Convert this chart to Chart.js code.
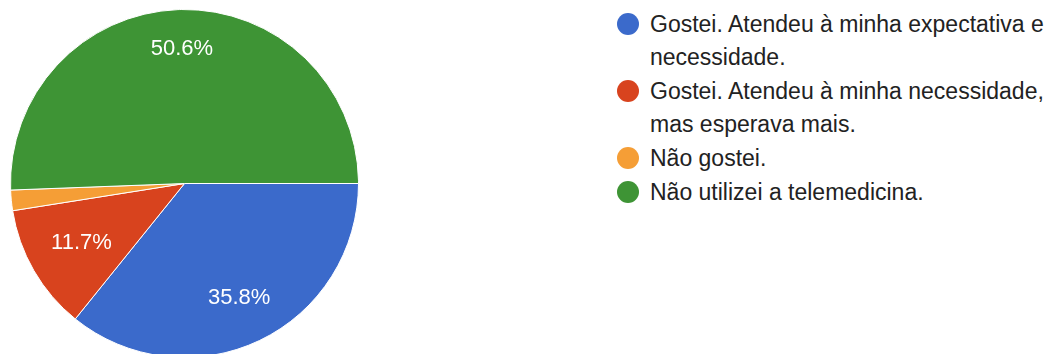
<!DOCTYPE html>
<html lang="pt-BR">
<head>
<meta charset="utf-8">
<title>Avaliação da telemedicina</title>
<script src="https://cdn.jsdelivr.net/npm/chart.js@4"></script>
<style>
  html, body { margin: 0; padding: 0; background: #ffffff; overflow: hidden; }
  body { width: 1053px; height: 354px; position: relative; font-family: "Liberation Sans", Arial, Helvetica, sans-serif; }
  #pieBox { position: absolute; left: 9.5px; top: 8.5px; width: 349px; height: 349px; }
  #legend { position: absolute; left: 617px; top: 7.5px; margin: 0; padding: 0; list-style: none; }
  #legend li { position: relative; padding-left: 33px; margin: 0 0 1px 0; font-size: 23px; line-height: 33px; color: #222222; white-space: nowrap; }
  #legend .dot { position: absolute; left: 0; top: 5.5px; width: 22px; height: 22px; border-radius: 50%; }
</style>
</head>
<body>
<div id="pieBox"><canvas id="pie"></canvas></div>
<ul id="legend"></ul>
<script>
// Answer options (each entry lists the lines shown in the legend)
const categories = [
  ["Gostei. Atendeu à minha expectativa e", "necessidade."],
  ["Gostei. Atendeu à minha necessidade,", "mas esperava mais."],
  ["Não gostei."],
  ["Não utilizei a telemedicina."]
];
// Share of responses, in percent
const shares = [35.8, 11.7, 1.9, 50.6];
const sliceColors = ["#3b6acb", "#d8431e", "#f59e36", "#3e9435"];

// Legend
const legendEl = document.getElementById("legend");
categories.forEach((lines, i) => {
  const li = document.createElement("li");
  const dot = document.createElement("span");
  dot.className = "dot";
  dot.style.background = sliceColors[i];
  li.appendChild(dot);
  lines.forEach((line, j) => {
    if (j > 0) li.appendChild(document.createElement("br"));
    li.appendChild(document.createTextNode(line));
  });
  legendEl.appendChild(li);
});

// Percentage labels inside the larger slices; labels pointing sideways
// are pulled toward the centre so the text stays inside the slice
const sliceLabels = {
  id: "sliceLabels",
  afterDatasetsDraw(chart) {
    const ctx = chart.ctx;
    const meta = chart.getDatasetMeta(0);
    const values = chart.data.datasets[0].data;
    ctx.save();
    ctx.font = '22px "Liberation Sans", Arial, sans-serif';
    ctx.fillStyle = "#ffffff";
    ctx.textAlign = "center";
    ctx.textBaseline = "middle";
    meta.data.forEach((arc, i) => {
      if (values[i] < 5) return;
      const text = values[i].toFixed(1) + "%";
      const w = ctx.measureText(text).width;
      const mid = (arc.startAngle + arc.endAngle) / 2;
      const r = arc.outerRadius * 0.775 - Math.abs(Math.cos(mid)) * w * 0.3;
      ctx.fillText(text, arc.x + Math.cos(mid) * r, arc.y + Math.sin(mid) * r);
    });
    ctx.restore();
  }
};

new Chart(document.getElementById("pie"), {
  type: "pie",
  data: {
    labels: categories.map(l => l.join(" ")),
    datasets: [{
      data: shares,
      backgroundColor: sliceColors,
      borderColor: "#ffffff",
      borderWidth: 1
    }]
  },
  options: {
    responsive: true,
    maintainAspectRatio: false,
    animation: false,
    rotation: 90,
    layout: { padding: 0 },
    plugins: {
      legend: { display: false },
      tooltip: { enabled: false }
    }
  },
  plugins: [sliceLabels]
});
</script>
</body>
</html>
